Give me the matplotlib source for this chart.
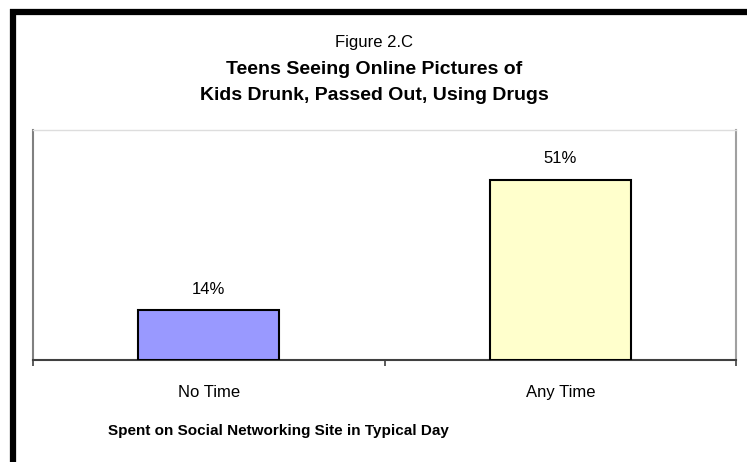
import matplotlib.pyplot as plt
from matplotlib.lines import Line2D

plt.rcParams['font.family'] = ['Liberation Sans', 'DejaVu Sans']

categories = ['No Time', 'Any Time']
values = [14, 51]
value_labels = ['14%', '51%']
bar_colors = ['#9999FF', '#FFFFCC']

W, H = 747, 462
fig = plt.figure(figsize=(W / 100, H / 100), dpi=100)

# plot area in pixel coords (left, top, right, bottom)
L, T, R, B = 33, 130, 736, 360
ax = fig.add_axes([L / W, 1 - B / H, (R - L) / W, (B - T) / H])

x = range(len(categories))
ax.bar(x, values, width=0.4, color=bar_colors, edgecolor='black', linewidth=1.5, zorder=3)
for xi, v, lab in zip(x, values, value_labels):
    ax.text(xi, v + 3.8, lab, ha='center', va='bottom', fontsize=12)

ax.set_xlim(-0.5, 1.5)
ax.set_ylim(0, 65)
ax.set_yticks([])
ax.set_xticks([0, 1])
ax.set_xticklabels(categories, fontsize=12)
ax.tick_params(axis='x', which='major', length=0, pad=18)
ax.set_xticks([-0.5, 0.5, 1.5], minor=True)
ax.tick_params(axis='x', which='minor', length=4.5, width=1.2, color='#404040', direction='out')

ax.spines['left'].set_color('#808080')
ax.spines['left'].set_linewidth(1.5)
ax.spines['right'].set_color('#a0a0a0')
ax.spines['right'].set_linewidth(1.5)
ax.spines['top'].set_color('#dddddd')
ax.spines['top'].set_linewidth(1)
ax.spines['bottom'].set_color('#404040')
ax.spines['bottom'].set_linewidth(1.5)

# titles
fig.text(374 / W, 1 - 43 / H, 'Figure 2.C', ha='center', va='center', fontsize=12)
fig.text(374 / W, 1 - 69 / H, 'Teens Seeing Online Pictures of', ha='center', va='center',
         fontsize=14, fontweight='bold')
fig.text(374 / W, 1 - 95 / H, 'Kids Drunk, Passed Out, Using Drugs', ha='center', va='center',
         fontsize=14, fontweight='bold')
fig.text(278 / W, 1 - 431 / H, 'Spent on Social Networking Site in Typical Day', ha='center',
         va='center', fontsize=11, fontweight='bold')

# thick black frame (top and left only, rest is cropped)
fig.add_artist(Line2D([10 / W, 1], [1 - 12 / H, 1 - 12 / H], color='black', linewidth=4.5,
                      solid_capstyle='butt', transform=fig.transFigure))
fig.add_artist(Line2D([13 / W, 13 / W], [1 - 9 / H, 0], color='black', linewidth=4.5,
                      solid_capstyle='butt', transform=fig.transFigure))

fig.savefig('out.png', dpi=100)
